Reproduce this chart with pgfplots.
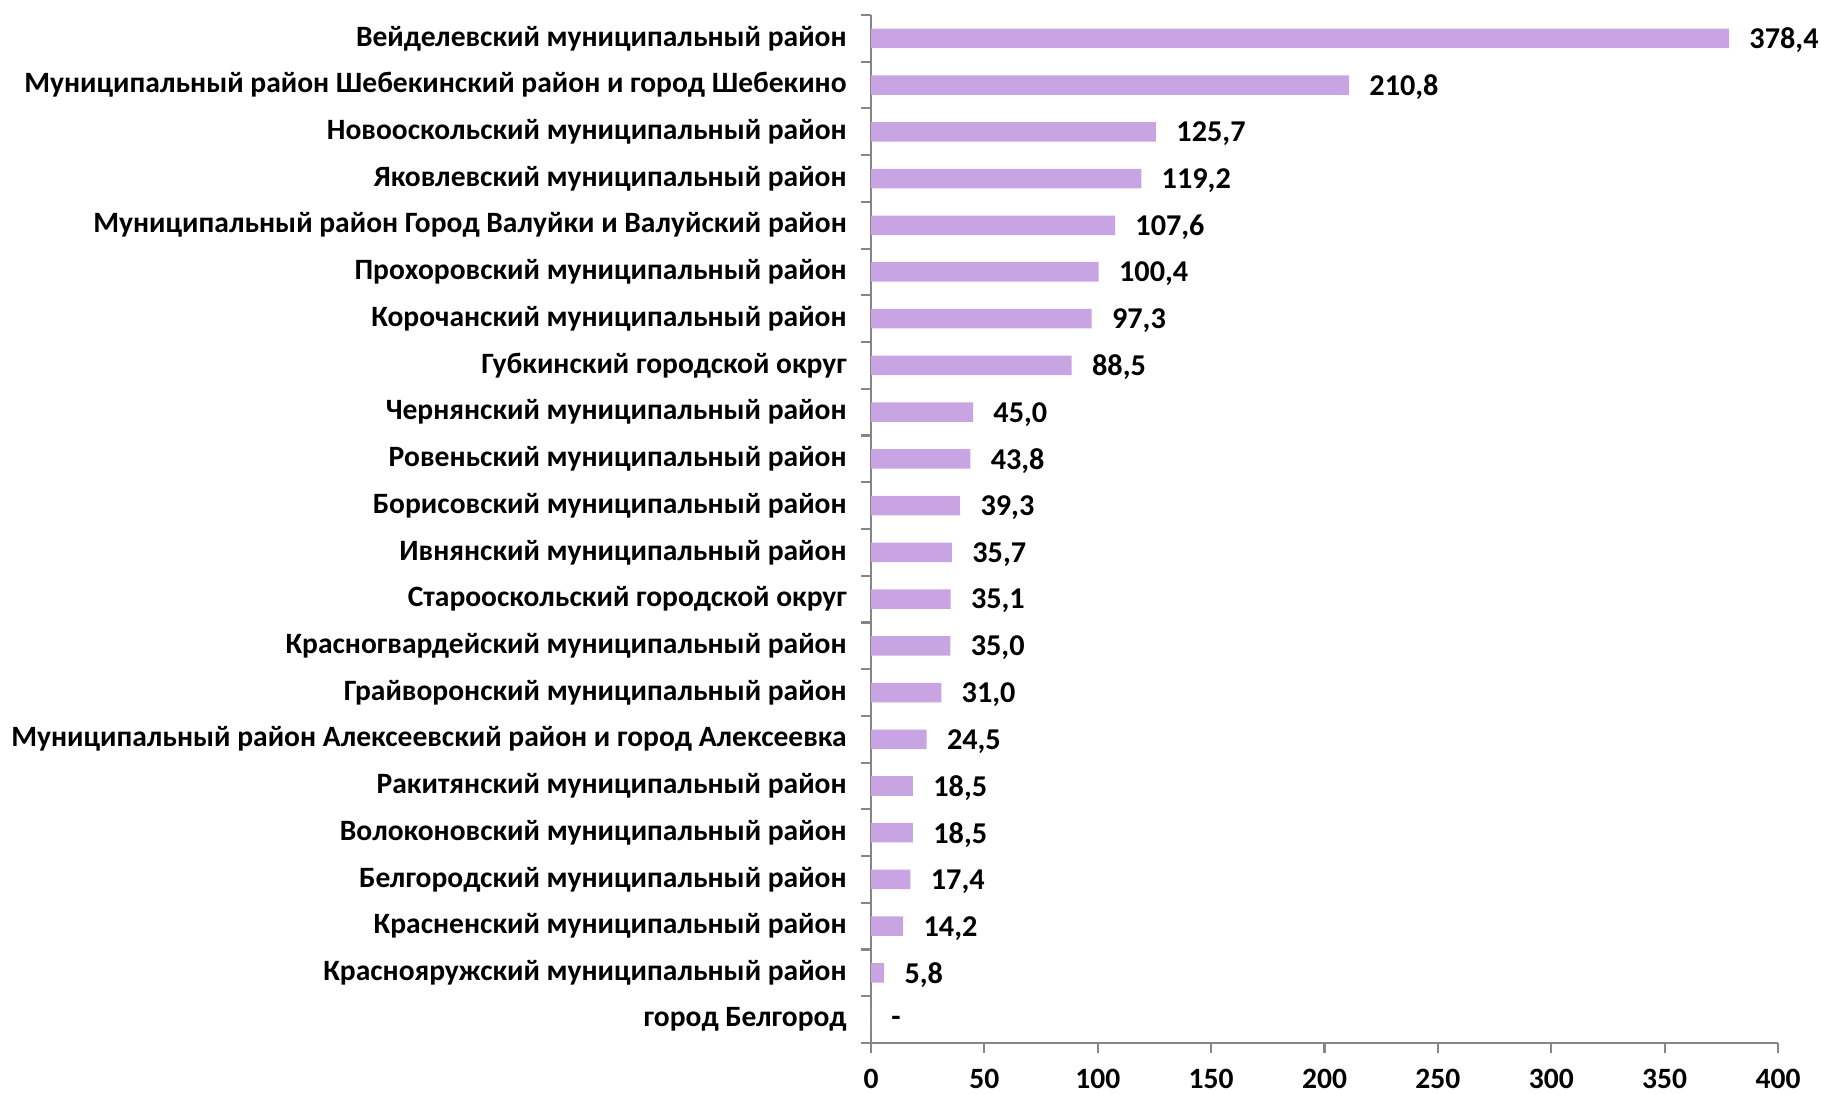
\documentclass[border=0pt]{standalone}
\usepackage{fontspec}
\setmainfont{Carlito}
\usepackage{pgfplots}
\pgfplotsset{compat=1.18}
\usepackage{pgfplotstable}
\definecolor{barc}{HTML}{C9A4E3}
\definecolor{axc}{HTML}{868686}

\pgfplotstableread[col sep=semicolon]{
y;v;lab;name
0;0;-;город Белгород
1;5.8;5,8;Краснояружский муниципальный район
2;14.2;14,2;Красненский муниципальный район
3;17.4;17,4;Белгородский муниципальный район
4;18.5;18,5;Волоконовский муниципальный район
5;18.5;18,5;Ракитянский муниципальный район
6;24.5;24,5;Муниципальный район Алексеевский район и город Алексеевка
7;31.0;31,0;Грайворонский муниципальный район
8;35.0;35,0;Красногвардейский муниципальный район
9;35.1;35,1;Старооскольский городской округ
10;35.7;35,7;Ивнянский муниципальный район
11;39.3;39,3;Борисовский муниципальный район
12;43.8;43,8;Ровеньский муниципальный район
13;45.0;45,0;Чернянский муниципальный район
14;88.5;88,5;Губкинский городской округ
15;97.3;97,3;Корочанский муниципальный район
16;100.4;100,4;Прохоровский муниципальный район
17;107.6;107,6;Муниципальный район Город Валуйки и Валуйский район
18;119.2;119,2;Яковлевский муниципальный район
19;125.7;125,7;Новооскольский муниципальный район
20;210.8;210,8;Муниципальный район Шебекинский район и город Шебекино
21;378.4;378,4;Вейделевский муниципальный район
}\data

\begin{document}
\begin{tikzpicture}
\path[use as bounding box] (-8.71,-0.51) rectangle (9.51,10.43);
\begin{axis}[
  at={(0.02,0)}, anchor=south west,
  scale only axis,
  width=9.07cm, height=10.28cm,
  xmin=0, xmax=400, ymin=-0.5, ymax=21.5,
  enlargelimits=false,
  clip=false,
  axis x line*=bottom, axis y line*=left,
  axis line style={-, draw=axc, line width=0.6pt},
  xtick={0,50,...,400},
  ytick={0,...,21},
  yticklabels from table={\data}{name},
  minor ytick={-0.5,0.5,...,21.5},
  tick align=outside,
  major tick length=0.1cm,
  minor tick length=0.1cm,
  every major y tick/.append style={draw=none},
  tick style={draw=axc, line width=0.6pt},
  xticklabel style={font=\fontsize{8.4}{10}\selectfont\bfseries, text=black, yshift=-0.04cm},
  yticklabel style={font=\fontsize{8.4}{10}\selectfont\bfseries, text=black, xshift=-0.02cm},
  /pgf/number format/assume math mode=true,
  xbar, bar width=0.195cm,
  point meta=explicit symbolic,
  nodes near coords,
  every node near coord/.append style={font=\fontsize{8.6}{10}\selectfont\bfseries, text=black, anchor=west, xshift=0.08cm, yshift=-0.02cm},
]
\addplot[fill=barc, draw=none] table[x=v, y=y, meta=lab] {\data};
\end{axis}
\end{tikzpicture}
\end{document}
